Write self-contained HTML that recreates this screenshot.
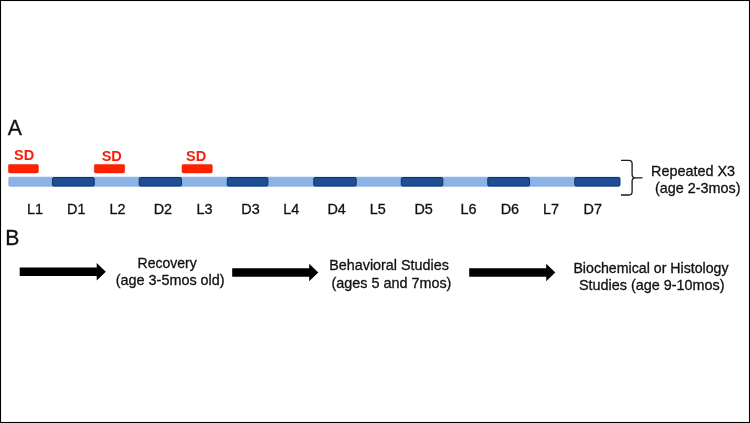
<!DOCTYPE html>
<html>
<head>
<meta charset="utf-8">
<title>Figure</title>
<style>
html,body{margin:0;padding:0;background:#fff;}
body{width:750px;height:423px;overflow:hidden;font-family:"Liberation Sans",sans-serif;}
svg{display:block;will-change:transform;}
text{font-family:"Liberation Sans",sans-serif;fill:#111;stroke:#111;stroke-width:0.3px;}
.lab{font-size:14.4px;}
.big{font-size:21.2px;}
.sd{font-size:14.5px;font-weight:bold;fill:#f81c08;stroke:none;}
.c{text-anchor:middle;}
</style>
</head>
<body>
<svg width="750" height="423" viewBox="0 0 750 423">
<rect x="0" y="0" width="750" height="423" fill="#fff"/>
<rect x="0.5" y="0.5" width="749" height="422" fill="none" stroke="#000" stroke-width="1.1"/>

<text class="big" x="7.7" y="135.1">A</text>
<text class="big" x="5.2" y="245.1">B</text>

<!-- SD -->
<text class="sd" x="14" y="160.3">SD</text>
<text class="sd" x="101.7" y="161.2">SD</text>
<text class="sd" x="186" y="160.7">SD</text>
<rect x="8.4" y="164.4" width="30.0" height="8.5" rx="1.3" fill="#ff2200" stroke="#e61a00" stroke-width="0.5"/>
<rect x="94.3" y="164.4" width="30.4" height="8.5" rx="1.3" fill="#ff2200" stroke="#e61a00" stroke-width="0.5"/>
<rect x="182" y="164.4" width="30.3" height="8.5" rx="1.3" fill="#ff2200" stroke="#e61a00" stroke-width="0.5"/>

<!-- bar -->
<g>
<rect x="8.8" y="177.2" width="611.2" height="9.1" rx="1.2" fill="#8bb3e6" stroke="#7fa6db" stroke-width="0.7"/>
<rect x="52.5" y="177.5" width="41.7" height="8.5" rx="1.2" fill="#1f4e93" stroke="#12316a" stroke-width="1"/>
<rect x="139.2" y="177.5" width="42.3" height="8.5" rx="1.2" fill="#1f4e93" stroke="#12316a" stroke-width="1"/>
<rect x="227.3" y="177.5" width="40.6" height="8.5" rx="1.2" fill="#1f4e93" stroke="#12316a" stroke-width="1"/>
<rect x="313.8" y="177.5" width="42.4" height="8.5" rx="1.2" fill="#1f4e93" stroke="#12316a" stroke-width="1"/>
<rect x="401.3" y="177.5" width="41.5" height="8.5" rx="1.2" fill="#1f4e93" stroke="#12316a" stroke-width="1"/>
<rect x="487.8" y="177.5" width="41.7" height="8.5" rx="1.2" fill="#1f4e93" stroke="#12316a" stroke-width="1"/>
<rect x="574.8" y="177.5" width="45.1" height="8.5" rx="1.2" fill="#1f4e93" stroke="#12316a" stroke-width="1"/>
</g>

<!-- labels -->
<g class="lab">
<text x="27.1" y="213.9">L1</text>
<text x="67.0" y="213.9">D1</text>
<text x="109.6" y="213.9">L2</text>
<text x="153.7" y="213.9">D2</text>
<text x="196.6" y="213.9">L3</text>
<text x="241.3" y="213.9">D3</text>
<text x="283.3" y="213.9">L4</text>
<text x="327.4" y="213.9">D4</text>
<text x="369.8" y="213.9">L5</text>
<text x="414.4" y="213.9">D5</text>
<text x="460.5" y="213.9">L6</text>
<text x="500.7" y="213.9">D6</text>
<text x="543.0" y="213.9">L7</text>
<text x="583.6" y="213.9">D7</text>
</g>

<!-- bracket -->
<path d="M621 160.4 H628.9 Q632.1 160.4 632.1 163.6 V174.6 Q632.1 177.8 635.3 177.8 H642.5 M635.3 177.8 Q632.1 177.8 632.1 181 V191.8 Q632.1 195 628.9 195 H621" fill="none" stroke="#1a1a1a" stroke-width="1.3"/>
<g class="lab">
<text x="651" y="175.5">Repeated X3</text>
<text x="654.9" y="192.8">(age 2-3mos)</text>
</g>

<!-- arrows -->
<g fill="#000">
<path d="M19.7 267.6 H96.7 V263 L105.8 271.8 L96.7 280.6 V276 H19.7 Z"/>
<path d="M232.2 268.3 H309.2 V263.7 L318.3 272.5 L309.2 281.3 V276.7 H232.2 Z"/>
<path d="M469.2 268.3 H546.2 V263.7 L555.3 272.5 L546.2 281.3 V276.7 H469.2 Z"/>
</g>

<!-- stage text -->
<g class="lab c">
<text x="167.1" y="267.6" style="font-size:14px">Recovery</text>
<text x="170.2" y="285">(age 3-5mos old)</text>
<text x="389.05" y="270.2" style="font-size:14.35px">Behavioral Studies</text>
<text x="391.4" y="287.6">(ages 5 and 7mos)</text>
<text x="651.0" y="273.4" style="font-size:14.18px">Biochemical or Histology</text>
<text x="651.8" y="290.2">Studies (age 9-10mos)</text>
</g>
</svg>
</body>
</html>
